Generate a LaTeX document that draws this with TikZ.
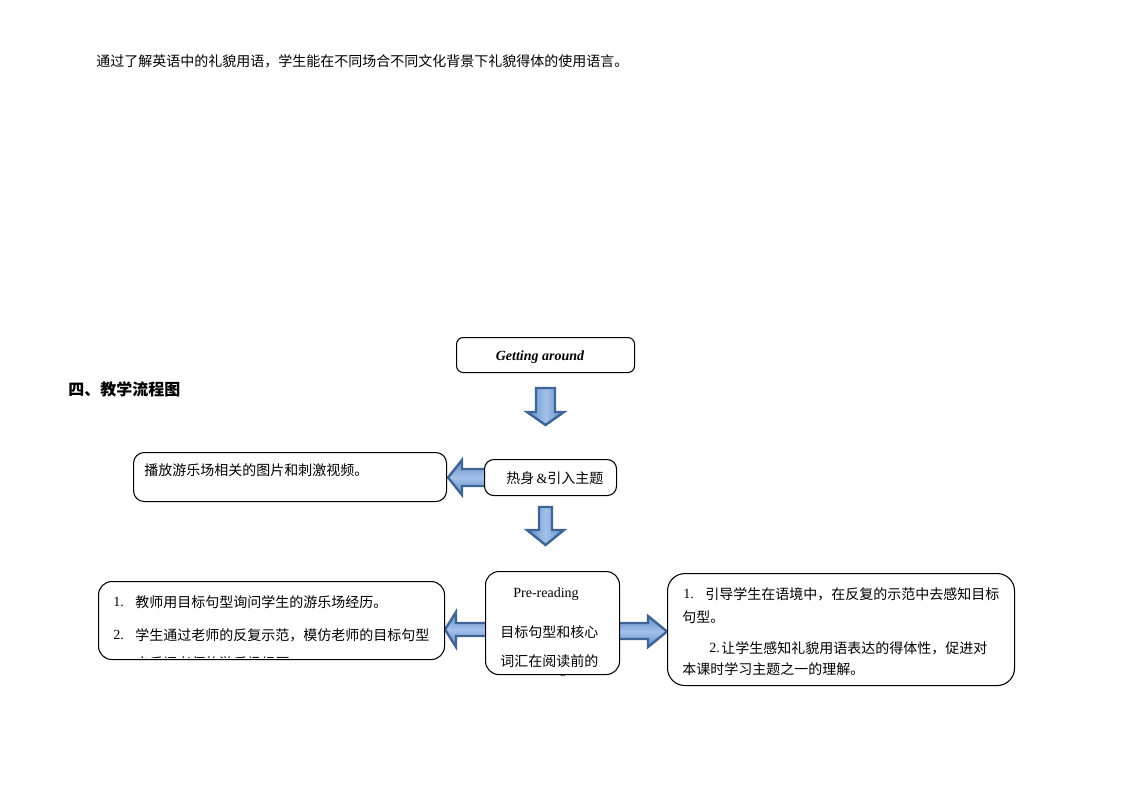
\documentclass[tikz,border=0pt]{standalone}
\usepackage{fontspec}
\setmainfont{Liberation Serif}
\newfontfamily\cjk{Noto Sans CJK SC}
\definecolor{arrline}{HTML}{3F6597}
\definecolor{arredge}{HTML}{5F8AC8}
\definecolor{arrmid}{HTML}{A3C1EA}
\begin{document}
\begin{tikzpicture}[x=0.75pt,y=-0.75pt,
  box/.style={draw=black, line width=0.8pt, rounded corners=#1, fill=white, inner sep=0pt, anchor=north west},
  box/.default=8pt,
  txt/.style={inner sep=0pt, anchor=west, font=\cjk\fontsize{10.5pt}{12pt}\selectfont},
  num/.style={inner sep=0pt, anchor=west, font=\rmfamily\fontsize{10.5pt}{12pt}\selectfont},
  vbarrow/.style={draw=arrline, line width=1.8pt, line join=miter, left color=arredge, right color=arredge, middle color=arrmid},
  hbarrow/.style={draw=arrline, line width=1.8pt, line join=miter, top color=arredge, bottom color=arredge, middle color=arrmid}]
\fill[white] (0,0) rectangle (1123,794);
\useasboundingbox (0,0) rectangle (1123,794);

% top sentence and heading
\node[txt] (intro) at (96,61) {通过了解英语中的礼貌用语，学生能在不同场合不同文化背景下礼貌得体的使用语言。};
\node[txt, font=\cjk\bfseries\fontsize{12pt}{14pt}\selectfont] (head) at (68,389) {四、教学流程图};

% block arrows
\path[vbarrow] (536,388) -- (555,388) -- (555,412) -- (564,412) -- (545.5,425) -- (527,412) -- (536,412) -- cycle;
\path[vbarrow] (539,507) -- (552,507) -- (552,530) -- (564,530) -- (545.5,545) -- (527,530) -- (539,530) -- cycle;
\path[hbarrow] (486,469) -- (462,469) -- (462,460) -- (448,477.5) -- (462,495) -- (462,486) -- (486,486) -- cycle;
\path[hbarrow] (487,623) -- (456,623) -- (456,612) -- (445,629.5) -- (456,647) -- (456,636) -- (487,636) -- cycle;
\path[hbarrow] (618,623) -- (648,623) -- (648,616) -- (667,631.5) -- (648,647) -- (648,639) -- (618,639) -- cycle;

% page number partly hidden
\node[inner sep=0pt, font=\rmfamily\fontsize{9pt}{10pt}\selectfont] (pg) at (563,673) {5};

% boxes
\node[box=5pt, minimum width=133.5pt, minimum height=26.25pt] (ga) at (456,337) {};
\node[inner sep=0pt, font=\bfseries\itshape\fontsize{10.5pt}{12pt}\selectfont] (gat) at (540,357) {Getting around};
\node[box=7pt, minimum width=99pt, minimum height=27pt] (warm) at (484,459) {};
\node[txt] (warmt) at (506,478) {热身{\rmfamily\,\&}引入主题};
\node[box=8pt, minimum width=234.75pt, minimum height=36.75pt] (play) at (133,452) {};
\node[txt] (playt) at (144,470) {播放游乐场相关的图片和刺激视频。};

\node[box=10pt, minimum width=100.5pt, minimum height=77.25pt] (pre) at (485,571) {};
\node[num, anchor=center] (pret) at (546,594) {Pre-reading};
\node[txt] (pre1) at (500,632) {目标句型和核心};
\node[txt] (pre2) at (500,661) {词汇在阅读前的};

\node[box=10pt, minimum width=259.5pt, minimum height=58.5pt] (lb) at (98,581) {};
\node[num] (lb1n) at (113,602) {1.};
\node[txt] (lb1) at (135,602) {教师用目标句型询问学生的游乐场经历。};
\node[num] (lb2n) at (113,635) {2.};
\node[txt] (lb2) at (135,635) {学生通过老师的反复示范，模仿老师的目标句型};
\begin{scope}
\clip (99,640) rectangle (443,657.5);
\node[txt] (lb3) at (135,663) {来反问老师的游乐场经历。};
\end{scope}

\node[box=13pt, minimum width=260.25pt, minimum height=84pt] (rb) at (667,573) {};
\node[num] (rb1n) at (683,594) {1.};
\node[txt] (rb1) at (705,594) {引导学生在语境中，在反复的示范中去感知目标};
\node[txt] (rb2) at (682,617) {句型。};
\node[num] (rb3n) at (709,648) {2.};
\node[txt] (rb3) at (721,648) {让学生感知礼貌用语表达的得体性，促进对};
\node[txt] (rb4) at (682,669) {本课时学习主题之一的理解。};
\end{tikzpicture}
\end{document}
